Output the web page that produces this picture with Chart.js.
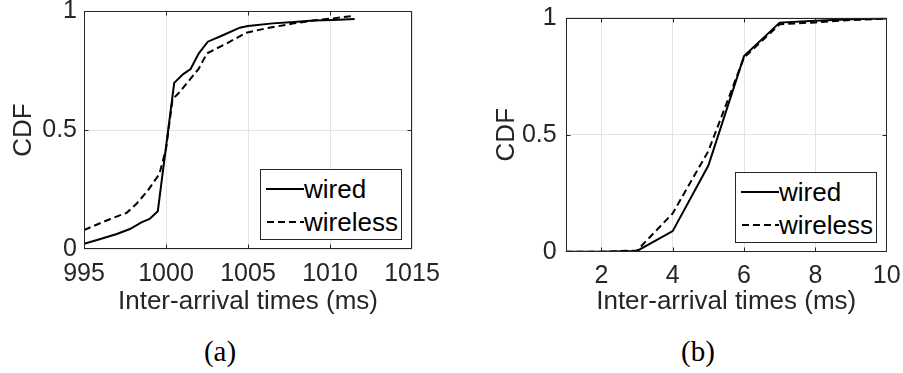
<!DOCTYPE html>
<html><head><meta charset="utf-8">
<script src="https://cdn.jsdelivr.net/npm/chart.js@4.4.0/dist/chart.umd.min.js"></script>
<style>
html,body{margin:0;padding:0;background:#fff;width:903px;height:373px;overflow:hidden;position:relative;font-family:'Liberation Sans',Arial,sans-serif;color:#262626}
.wrap{position:absolute;top:0;height:330px}
#wa{left:0;width:451px}
#wb{left:460px;width:443px}
.legend{position:absolute;background:#fff;border:1px solid #262626;box-sizing:border-box;width:142px;height:71px;font-size:26px;color:#000}
.legend svg{position:absolute;left:5px;width:38px;height:6px}
.legend .t{position:absolute;left:43px;height:30px;line-height:30px;white-space:nowrap}
.cap{position:absolute;top:333px;font-family:'Liberation Serif','DejaVu Serif',serif;font-size:29px;color:#000;width:60px;text-align:center;line-height:36px}
</style></head>
<body>
<div class="wrap" id="wa"><canvas id="ca"></canvas></div>
<div class="wrap" id="wb"><canvas id="cb"></canvas></div>

<div class="legend" style="left:260px;top:169px">
  <svg style="top:16px"><line x1="0" y1="3" x2="38" y2="3" stroke="#000" stroke-width="2"/></svg>
  <div class="t" style="top:4px">wired</div>
  <svg style="top:49px"><line x1="1" y1="3" x2="38" y2="3" stroke="#000" stroke-width="2" stroke-dasharray="7 4"/></svg>
  <div class="t" style="top:37px">wireless</div>
</div>
<div class="legend" style="left:735px;top:172px">
  <svg style="top:16px"><line x1="0" y1="3" x2="38" y2="3" stroke="#000" stroke-width="2"/></svg>
  <div class="t" style="top:4px">wired</div>
  <svg style="top:49px"><line x1="1" y1="3" x2="38" y2="3" stroke="#000" stroke-width="2" stroke-dasharray="7 4"/></svg>
  <div class="t" style="top:37px">wireless</div>
</div>

<div class="cap" style="left:190px">(a)</div>
<div class="cap" style="left:668px">(b)</div>

<script>
// ---------- data ----------
const xTicksA = [995, 1000, 1005, 1010, 1015];
const xTicksB = [2, 4, 6, 8, 10];
const yTicks = [0, 0.5, 1];

const wiredA_x = [995, 995.8, 997, 997.8, 998.5, 999, 999.5, 1000.5, 1001.05, 1001.5, 1002, 1002.55, 1003.5, 1004.5, 1005, 1006.5, 1007.8, 1009, 1010.2, 1011.5];
const wiredA_y = [0.022, 0.038, 0.063, 0.084, 0.112, 0.126, 0.159, 0.698, 0.735, 0.756, 0.822, 0.871, 0.899, 0.930, 0.937, 0.948, 0.954, 0.960, 0.962, 0.966];
const wirelessA_x = [995, 996.6, 997.6, 998.2, 998.9, 999.6, 1000.0, 1000.4, 1000.75, 1001.5, 1002, 1002.5, 1003.1, 1003.9, 1004.9, 1006.1, 1007.8, 1009, 1010.2, 1011.5];
const wirelessA_y = [0.080, 0.126, 0.152, 0.190, 0.246, 0.316, 0.420, 0.630, 0.653, 0.716, 0.758, 0.822, 0.843, 0.871, 0.909, 0.927, 0.948, 0.960, 0.969, 0.980];

const xB = [1, 2, 3, 4, 5, 6, 7, 8, 9, 10];
const wiredB = [0, 0, 0.003, 0.088, 0.368, 0.836, 0.979, 0.987, 0.993, 0.997];
const wirelessB = [0, 0, 0.005, 0.164, 0.430, 0.830, 0.972, 0.980, 0.990, 0.996];

const seriesNames = ['wired', 'wireless'];
const xTitle = 'Inter-arrival times (ms)';
const yTitle = 'CDF';

// ---------- helpers ----------
const FONT = "'Liberation Sans', Arial, sans-serif";
const TXT = '#262626';
const pts = (xs, ys) => xs.map((x, i) => ({x, y: ys[i]}));

const boxPlugin = {
  id: 'matlabBox',
  afterDatasetsDraw(chart) {
    const {ctx, chartArea: a, scales: {x, y}} = chart;
    const L = Math.round(a.left) + 0.5, R = Math.round(a.right) - 0.5;
    const T = Math.round(a.top) + 0.5, B = Math.round(a.bottom) - 0.5;
    ctx.save();
    ctx.strokeStyle = TXT;
    ctx.lineWidth = 1;
    ctx.beginPath();
    const tl = 4;
    x.ticks.forEach(t => {
      if (t.value <= x.min || t.value >= x.max) return;
      const px = Math.round(x.getPixelForValue(t.value)) + 0.5;
      ctx.moveTo(px, B); ctx.lineTo(px, B - tl);
      ctx.moveTo(px, T); ctx.lineTo(px, T + tl);
    });
    y.ticks.forEach(t => {
      if (t.value <= y.min || t.value >= y.max) return;
      const py = Math.round(y.getPixelForValue(t.value)) + 0.5;
      ctx.moveTo(L, py); ctx.lineTo(L + tl, py);
      ctx.moveTo(R, py); ctx.lineTo(R - tl, py);
    });
    ctx.stroke();
    ctx.strokeRect(L, T, R - L, B - T);
    ctx.restore();
  }
};

function makeChart(id, o) {
  return new Chart(document.getElementById(id), {
    type: 'line',
    data: {
      datasets: [
        {label: seriesNames[0], data: o.wired, borderColor: '#000', borderWidth: 2, pointRadius: 0, tension: 0, fill: false},
        {label: seriesNames[1], data: o.wireless, borderColor: '#000', borderWidth: 2, borderDash: [7, 4], pointRadius: 0, tension: 0, fill: false}
      ]
    },
    options: {
      responsive: true, maintainAspectRatio: false, animation: false,
      devicePixelRatio: 1,
      layout: {padding: {left: 0, top: o.top, right: o.right, bottom: 0}},
      plugins: {legend: {display: false}, tooltip: {enabled: false}},
      scales: {
        x: {
          type: 'linear', min: o.xmin, max: o.xmax,
          afterBuildTicks: s => { s.ticks = o.xticks.map(v => ({value: v})); },
          afterFit: s => { s.height = o.xh; s.paddingLeft = 0; s.paddingRight = 0; s.paddingTop = 0; s.paddingBottom = 0; },
          grid: {color: '#e4e4e4', lineWidth: 1, drawTicks: false},
          border: {display: false},
          ticks: {color: TXT, font: {family: FONT, size: 25}, padding: o.xpad, maxRotation: 0, autoSkip: false,
                  callback: v => String(v)},
          title: {display: true, text: xTitle, color: TXT, font: {family: FONT, size: 26}, padding: {top: 0, bottom: 12.5}}
        },
        y: {
          type: 'linear', min: 0, max: 1,
          afterBuildTicks: s => { s.ticks = yTicks.map(v => ({value: v})); },
          afterFit: s => { s.width = o.yw; s.paddingLeft = 0; s.paddingRight = 0; s.paddingTop = 0; s.paddingBottom = 0; },
          grid: {color: '#e4e4e4', lineWidth: 1, drawTicks: false},
          border: {display: false},
          ticks: {color: TXT, font: {family: FONT, size: 25}, padding: o.ypad, autoSkip: false,
                  callback: v => String(v)},
          title: {display: true, text: yTitle, color: TXT, font: {family: FONT, size: 26}, padding: {top: o.ytp, bottom: 0}}
        }
      }
    },
    plugins: [boxPlugin]
  });
}

makeChart('ca', {
  wired: pts(wiredA_x, wiredA_y), wireless: pts(wirelessA_x, wirelessA_y),
  xmin: 995, xmax: 1015, xticks: xTicksA,
  top: 11, right: 39, xh: 81, yw: 84, xpad: 10, ypad: 7, ytp: 8.4
});
makeChart('cb', {
  wired: pts(xB, wiredB), wireless: pts(xB, wirelessB),
  xmin: 1, xmax: 10, xticks: xTicksB,
  top: 17.7, right: 16.3, xh: 78.3, yw: 105.7, xpad: 9, ypad: 9, ytp: 31.1
});
</script>
</body></html>
